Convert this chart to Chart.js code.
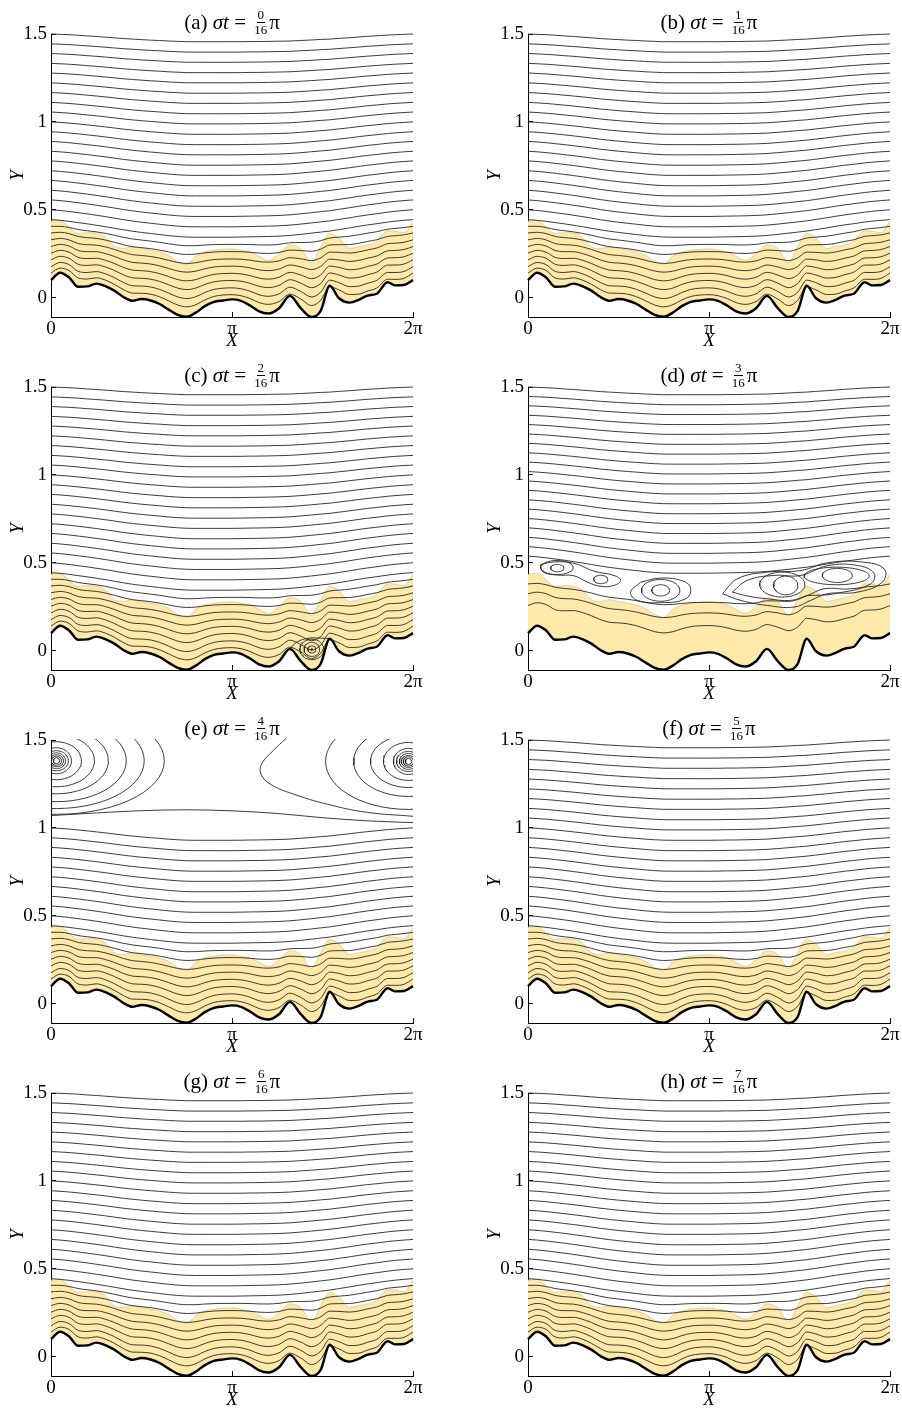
<!DOCTYPE html>
<html lang="en">
<head>
<meta charset="UTF-8">
<title>Streamlines over a rough bed, σt = 0 … 7π/16</title>
<script src="https://cdn.jsdelivr.net/npm/chart.js"></script>
<style>
  body{margin:0;background:#fff;font-family:'Liberation Serif','DejaVu Serif',serif;}
  #page{position:relative;width:902px;height:1411px;overflow:hidden;background:#fff;}
  #page canvas{position:absolute;}
  .ttl{position:absolute;width:300px;height:30px;display:flex;justify-content:center;align-items:center;font-size:21px;color:#000;white-space:nowrap;}
  .ttl i{font-style:italic;}
  .frac{display:inline-flex;flex-direction:column;align-items:center;font-size:13px;line-height:12px;margin:0 2px 0 3px;}
  .frac span:first-child{border-bottom:0.9px solid #000;padding:0 1px 1px;}
  .frac span:last-child{padding-top:1px;}
</style>
</head>
<body>
<div id="page"></div>
<script>
/* ---------- sample positions along the channel (X / π) ---------- */
const xs = [0,.05,.1,.15,.2,.25,.3,.35,.4,.45,.5,.55,.6,.65,.7,.75,.8,.85,.9,.95,1,1.05,1.1,1.15,1.2,
            1.26,1.32,1.38,1.44,1.49,1.54,1.59,1.65,1.7,1.75,1.8,1.86,1.9,1.95,2];

/* bottom wall (thick line) */
const bedY = [0.100,0.142,0.115,0.062,0.064,0.080,0.066,0.040,0.004,-0.018,-0.008,-0.016,-0.036,-0.068,-0.098,
              -0.108,-0.085,-0.048,-0.024,-0.016,-0.010,-0.018,-0.045,-0.078,-0.090,
              -0.060,0.010,-0.060,-0.110,-0.075,0.068,-0.002,-0.028,-0.012,0.012,0.022,0.088,0.070,0.072,0.100];

/* first streamline above the wall */
const innerY = [0.140,0.168,0.155,0.112,0.106,0.113,0.100,0.076,0.046,0.026,0.025,0.020,0.005,-0.018,-0.042,
                -0.052,-0.040,-0.013,0.007,0.015,0.017,0.011,-0.005,-0.028,-0.038,
                -0.022,0.020,-0.008,-0.045,-0.015,0.062,0.045,0.018,0.020,0.038,0.055,0.105,0.104,0.110,0.140];

/* upper edge of the shaded layer */
const capY = [0.435,0.440,0.400,0.365,0.370,0.368,0.345,0.290,0.280,0.290,0.280,0.270,0.260,0.240,0.205,
              0.190,0.235,0.260,0.270,0.275,0.278,0.270,0.260,0.235,0.212,
              0.250,0.300,0.280,0.200,0.290,0.365,0.340,0.280,0.290,0.300,0.320,0.380,0.378,0.370,0.435];

/* streamline leaving the left edge at Y = 1.5 */
const topY = [1.500,1.498,1.496,1.493,1.489,1.486,1.482,1.478,1.474,1.471,1.468,1.465,1.463,1.460,1.458,
              1.456,1.456,1.456,1.456,1.456,1.456,1.456,1.457,1.457,1.458,
              1.459,1.460,1.463,1.466,1.469,1.471,1.475,1.479,1.483,1.487,1.490,1.494,1.496,1.498,1.500];

/* streamline leaving the left edge at Y = 0.444 (top of the shaded layer) */
const guideY = [0.444,0.440,0.434,0.427,0.420,0.412,0.404,0.395,0.386,0.378,0.371,0.365,0.359,0.353,0.348,
                0.345,0.344,0.344,0.344,0.344,0.344,0.345,0.346,0.347,0.348,
                0.350,0.354,0.360,0.367,0.373,0.379,0.387,0.397,0.406,0.414,0.421,0.430,0.435,0.440,0.444];

/* streamline heights at X = 0 */
const upperLevels = [1.5,1.444,1.389,1.333,1.278,1.222,1.167,1.111,1.056,1.0,
                     0.944,0.889,0.833,0.778,0.722,0.667,0.611,0.556,0.5,0.444];
const lowerLevels = [0.406,0.368,0.329,0.291,0.253,0.215,0.176,0.14];
const dLowerLevels = [0.38,0.324,0.257];

/* panels */
const panelIds = ['a','b','c','d','e','f','g','h'];
const phaseNum = [0,1,2,3,4,5,6,7];

/* axes */
const xTicks = [0,1,2], xTickLabels = ['0','π','2π'];
const yTicks = [0,0.5,1,1.5], yTickLabels = ['0','0.5','1','1.5'];

/* (c) eddy trapped in the trough near X = 1.44π */
const cEddyC = [1.441,0.007];
const cEddyRx = [0.066,0.043,0.022,0.005];
const cEddyRy = [0.058,0.040,0.020,0.004];
const cArc = [[1.32,0.012],[1.36,0.05],[1.42,0.07],[1.48,0.072],[1.54,0.068]];

/* (d) eddies above the shaded layer */
const dEddyCx = [0.162,0.160,0.402,0.733,0.733,1.424,1.405,1.709,1.705];
const dEddyCy = [0.470,0.473,0.405,0.343,0.343,0.371,0.376,0.428,0.425];
const dEddyRx = [0.037,0.090,0.039,0.049,0.106,0.067,0.125,0.083,0.180];
const dEddyRy = [0.021,0.040,0.024,0.032,0.062,0.053,0.071,0.040,0.050];
const dLoopA = [[0.07,0.49],[0.144,0.505],[0.254,0.497],[0.365,0.452],[0.475,0.428],[0.512,0.40],[0.475,0.371],
                [0.402,0.366],[0.328,0.39],[0.254,0.426],[0.162,0.43],[0.088,0.445],[0.07,0.472],[0.07,0.49]];
const dLoopB = [[0.623,0.39],[0.733,0.413],[0.862,0.394],[0.899,0.352],[0.871,0.295],[0.733,0.273],
                [0.604,0.286],[0.567,0.333],[0.623,0.39]];
const dLoopR1 = [[1.074,0.324],[1.157,0.409],[1.323,0.447],[1.507,0.456],[1.654,0.50],[1.838,0.505],[1.967,0.466],
                 [1.958,0.39],[1.82,0.333],[1.654,0.324],[1.562,0.286],[1.47,0.248],[1.323,0.257],[1.175,0.286],[1.074,0.324]];
const dLoopR2 = [[1.129,0.333],[1.212,0.40],[1.359,0.428],[1.507,0.428],[1.654,0.483],[1.82,0.485],[1.912,0.44],
                 [1.893,0.38],[1.783,0.352],[1.635,0.352],[1.544,0.314],[1.451,0.286],[1.323,0.295],[1.212,0.311],[1.129,0.333]];

/* (e) eddies at the upper corners */
const eLeftC = [0.03,1.382], eRightC = [1.975,1.378];
const eRingRxL = [0.017,0.028,0.039,0.05,0.066,0.083,0.138,0.21,0.287,0.386,0.485,0.596];
const eRingRyL = [0.017,0.026,0.034,0.045,0.057,0.074,0.108,0.148,0.188,0.233,0.272,0.305];
const eRingRxR = [0.017,0.028,0.039,0.05,0.066,0.083,0.138,0.21,0.303,0.458];
const eRingRyR = [0.017,0.026,0.034,0.045,0.057,0.074,0.108,0.148,0.199,0.273];
const eSep = [[1.30,1.51],[1.228,1.44],[1.164,1.364],[1.16,1.307],[1.21,1.25],[1.338,1.193],[1.522,1.136],[1.743,1.089],[2.0,1.066]];
const eTop = [[0,1.07],[0.25,1.085],[0.5,1.098],[0.75,1.103],[1.0,1.097],[1.25,1.082],[1.5,1.058],[1.75,1.04],[2,1.03]];

/* ---------- helpers ---------- */
const onGrid = ys => xs.map((x, i) => ({x, y: ys[i]}));
const fromPairs = arr => arr.map(([x, y]) => ({x, y}));
const blend = (a, b, f) => a.map((v, i) => v + f * (b[i] - v));
function ellipse(cx, cy, rx, ry){
  const pts = [];
  for (let i = 0; i <= 60; i++){
    const a = i / 60 * 2 * Math.PI;
    pts.push({x: cx + rx * Math.cos(a), y: cy + ry * Math.sin(a)});
  }
  return pts;
}
const stream = (data, extra) => Object.assign({
  data, showLine:true, borderColor:'#262626', borderWidth:0.9, pointRadius:0, fill:false,
  cubicInterpolationMode:'monotone', clip:3
}, extra || {});
const loop = data => stream(data, {cubicInterpolationMode:'default', tension:0.42});
const ring = data => stream(data, {cubicInterpolationMode:'default', tension:0, clip:{left:0,right:0,top:1,bottom:0}});

function panelSets(id){
  const sets = [];
  // bottom wall first so it is painted on top
  sets.push({data:onGrid(bedY), showLine:true, borderColor:'#000', borderWidth:2.4, pointRadius:0,
             fill:false, cubicInterpolationMode:'monotone', clip:3});

  const guideUp = id === 'd' ? guideY.map(v => v + 0.04) : guideY;
  let ups = upperLevels;
  if (id === 'd') ups = upperLevels.slice(0, 19);
  if (id === 'e') ups = upperLevels.slice(9);
  ups.forEach(L => sets.push(stream(onGrid(blend(topY, guideUp, (1.5 - L) / (1.5 - 0.444))))));

  const lows = id === 'd' ? dLowerLevels : lowerLevels;
  lows.forEach(L => sets.push(stream(onGrid(blend(innerY, guideY, (L - 0.14) / (0.444 - 0.14))))));

  if (id === 'c'){
    cEddyRx.forEach((rx, i) => sets.push(ring(ellipse(cEddyC[0], cEddyC[1], rx, cEddyRy[i]))));
    sets.push(loop(fromPairs(cArc)));
  }
  if (id === 'd'){
    dEddyCx.forEach((cx, i) => sets.push(ring(ellipse(cx, dEddyCy[i], dEddyRx[i], dEddyRy[i]))));
    [dLoopA, dLoopB, dLoopR1, dLoopR2].forEach(l => sets.push(loop(fromPairs(l))));
  }
  if (id === 'e'){
    eRingRxL.forEach((rx, i) => sets.push(ring(ellipse(eLeftC[0], eLeftC[1], rx, eRingRyL[i]))));
    eRingRxR.forEach((rx, i) => sets.push(ring(ellipse(eRightC[0], eRightC[1], rx, eRingRyR[i]))));
    sets.push(loop(fromPairs(eSep)));
    sets.push(stream(fromPairs(eTop)));
  }

  // shaded layer between its upper edge and the wall (dataset 0)
  sets.push({data:onGrid(capY), showLine:true, borderColor:'rgba(200,165,85,0.55)', borderWidth:0.8,
             pointRadius:0, backgroundColor:'#fde9a9', fill:{target:0}, cubicInterpolationMode:'monotone'});
  return sets;
}

/* ---------- layout ---------- */
const page = document.getElementById('page');
const serif = "'Liberation Serif','DejaVu Serif',serif";
const colLeft = [1, 478], colMid = [232, 709];
const rowPitch = 353;

panelIds.forEach((id, n) => {
  const col = n % 2, row = Math.floor(n / 2);
  const cv = document.createElement('canvas');
  cv.width = 438; cv.height = 335;
  cv.style.left = colLeft[col] + 'px';
  cv.style.top = (22 + row * rowPitch) + 'px';
  page.appendChild(cv);

  new Chart(cv, {
    type:'scatter',
    data:{datasets:panelSets(id)},
    options:{
      responsive:false, animation:false, devicePixelRatio:1, events:[],
      layout:{padding:{top:12, right:26, left:0, bottom:0}},
      elements:{point:{radius:0, hoverRadius:0}, line:{capBezierPoints:false}},
      plugins:{legend:{display:false}, tooltip:{enabled:false}},
      scales:{
        x:{
          type:'linear', min:0, max:2,
          afterBuildTicks:s => { s.ticks = xTicks.map(v => ({value:v})); },
          afterFit:s => { s.height = 40; s.paddingLeft = 0; s.paddingRight = 0; },
          ticks:{callback:(v, i) => xTickLabels[i], font:{family:serif, size:19}, color:'#000',
                 padding:6, maxRotation:0, autoSkip:false},
          grid:{drawOnChartArea:false, drawTicks:true, tickLength:-5, color:'#000', lineWidth:1},
          border:{display:true, color:'#000', width:1},
          title:{display:true, text:'X', color:'#000', font:{family:serif, size:19, style:'italic'},
                 padding:{top:0, bottom:5}}
        },
        y:{
          min:-0.11, max:1.5,
          afterBuildTicks:s => { s.ticks = yTicks.map(v => ({value:v})); },
          afterFit:s => { s.width = 50; s.paddingTop = 0; s.paddingBottom = 0; },
          ticks:{callback:(v, i) => yTickLabels[i], font:{family:serif, size:19}, color:'#000',
                 padding:9, autoSkip:false},
          grid:{drawOnChartArea:false, drawTicks:true, tickLength:-5, color:'#000', lineWidth:1},
          border:{display:true, color:'#000', width:1},
          title:{display:true, text:'Y', color:'#000', font:{family:serif, size:19, style:'italic'},
                 padding:{top:6, bottom:0}}
        }
      }
    }
  });

  const t = document.createElement('div');
  t.className = 'ttl';
  t.style.left = (colMid[col] - 150) + 'px';
  t.style.top = (7 + row * rowPitch) + 'px';
  t.innerHTML = '(' + id + ')&nbsp;<i>σt</i>&nbsp;=&nbsp;<span class="frac"><span>' + phaseNum[n] +
                '</span><span>16</span></span>π';
  page.appendChild(t);
});
</script>
</body>
</html>
